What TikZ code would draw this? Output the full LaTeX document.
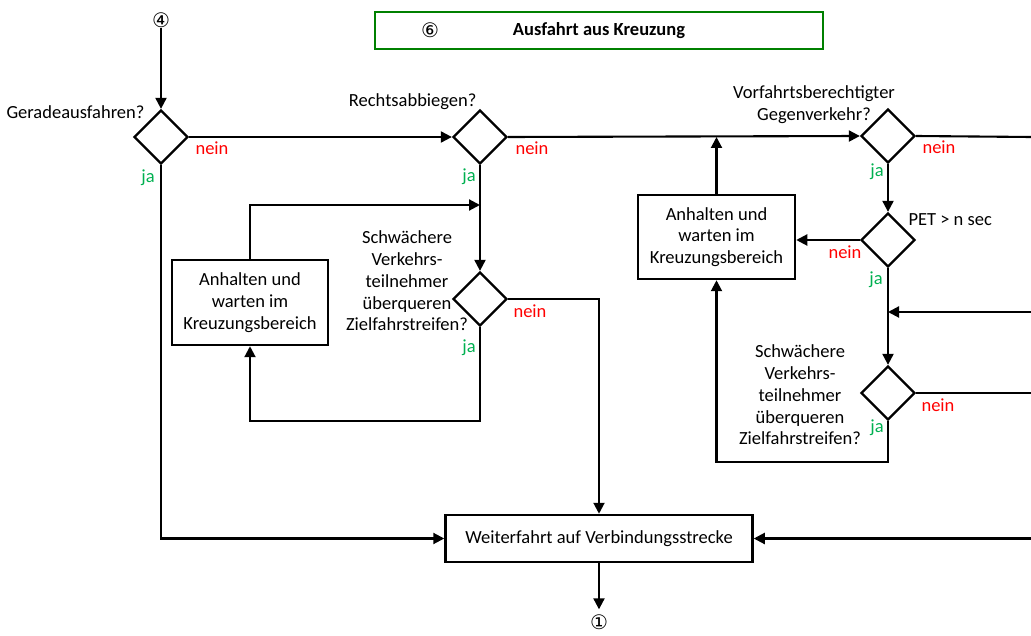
\documentclass[tikz,border=0pt]{standalone}
\usepackage{fontspec}
\setmainfont{Carlito}
\newfontfamily\circfont{DejaVu Sans}
\usetikzlibrary{arrows.meta,shapes.geometric}

\definecolor{jagreen}{RGB}{0,176,80}
\definecolor{framegreen}{RGB}{0,128,0}

\begin{document}
\begin{tikzpicture}[x=1pt, y=-1pt,
		every node/.style={font=\fontsize{18.5}{21.7}\selectfont},
		decision/.style={draw, diamond, aspect=1, line width=2.3pt, minimum width=54pt, minimum height=54pt, inner sep=0pt},
		action/.style={draw, rectangle, line width=2.5pt, align=center, inner sep=0pt},
		question/.style={align=center},
		nein/.style={text=red},
		ja/.style={text=jagreen},
		connector/.style={font=\circfont\fontsize{20}{20}\selectfont, inner sep=0pt},
		flow/.style={line width=2.1pt, -{Triangle[length=11pt, width=11pt]}},
		link/.style={line width=2.1pt}]
	\useasboundingbox (0, 0) rectangle (1031, 636);

	\draw (599, 30.5) 	node[draw=framegreen, line width=1.8pt, minimum width=448pt, minimum height=37pt, font=\bfseries\fontsize{18.5}{18.5}\selectfont] 	(title) 	{Ausfahrt aus Kreuzung};
	\draw (430, 30) 	node[connector] 	(six) 		{⑥};

	\draw (161, 20) 	node[connector] 	(start) 	{④};
	\draw (161, 137) 	node[decision] 		(gerade) 	{};
	\draw (480, 137) 	node[decision] 		(rechts) 	{};
	\draw (888, 136) 	node[decision] 		(vorfahrt) 	{};
	\draw (888, 240) 	node[decision] 		(pet) 		{};
	\draw (888, 393) 	node[decision] 		(schwR) 	{};
	\draw (480, 299) 	node[decision] 		(schwL) 	{};
	\draw (250, 302.5) 	node[action, minimum width=156pt, minimum height=85pt] 	(haltL) 	{Anhalten und\\warten im\\Kreuzungsbereich};
	\draw (716.5, 237) 	node[action, minimum width=157pt, minimum height=84pt] 	(haltR) 	{Anhalten und\\warten im\\Kreuzungsbereich};
	\draw (599, 538.5) 	node[action, minimum width=307pt, minimum height=47pt] 	(weiter) 	{Weiterfahrt auf Verbindungsstrecke};
	\draw (599, 622) 	node[connector] 	(ende) 		{①};

	\draw (148, 112) 	node[anchor=east] 	(qgerade) 	{Geradeausfahren?};
	\draw (480, 102) 	node[anchor=east] 	(qrechts) 	{Rechtsabbiegen?};
	\draw (814, 105) 	node[question] 		(qvorfahrt) 	{Vorfahrtsberechtigter\\Gegenverkehr?};
	\draw (905, 220) 	node[anchor=west] 	(qpet) 		{PET > n sec};
	\draw (407, 281) 	node[question] 		(qschwL) 	{Schwächere\\Verkehrs-\\teilnehmer\\überqueren\\Zielfahrstreifen?};
	\draw (800, 395) 	node[question] 		(qschwR) 	{Schwächere\\Verkehrs-\\teilnehmer\\überqueren\\Zielfahrstreifen?};

	\draw (212, 148) 	node[nein] 	(n1) 	{nein};
	\draw (532, 148) 	node[nein] 	(n2) 	{nein};
	\draw (939, 147) 	node[nein] 	(n3) 	{nein};
	\draw (845, 252) 	node[nein] 	(n4) 	{nein};
	\draw (530, 311) 	node[nein] 	(n5) 	{nein};
	\draw (938, 405) 	node[nein] 	(n6) 	{nein};
	\draw (148, 178) 	node[ja] 	(j1) 	{ja};
	\draw (469, 177) 	node[ja] 	(j2) 	{ja};
	\draw (877, 172) 	node[ja] 	(j3) 	{ja};
	\draw (876, 280) 	node[ja] 	(j4) 	{ja};
	\draw (469, 348) 	node[ja] 	(j5) 	{ja};
	\draw (877, 428) 	node[ja] 	(j6) 	{ja};

	\coordinate (outA) at (1031, 137);
	\coordinate (inB) at (1031, 312);
	\coordinate (outC) at (1031, 393);
	\coordinate (inD) at (1031, 538.5);
	\coordinate (joinL) at (480, 205);

	\draw[flow] (start) -- (gerade.north);
	\draw[flow] (gerade.east) -- (rechts.west);
	\draw[flow] (rechts.east) -- (vorfahrt.west);
	\draw[link] (vorfahrt.east) -- (outA);
	\draw[flow] (haltR.north) -- (haltR.north |- rechts.east);
	\draw[flow] (vorfahrt.south) -- (pet.north);
	\draw[flow] (pet.west) -- (pet.west -| haltR.east);
	\draw[flow] (pet.south) -- (schwR.north);
	\draw[flow] (inB) -- (inB -| pet.south);
	\draw[link] (schwR.east) -- (outC);
	\draw[flow] (schwR.south) -- ++(0, 41) -| (haltR.south);
	\draw[flow] (inD) -- (weiter.east);
	\draw[flow] (gerade.south) |- (weiter.west);
	\draw[flow] (rechts.south) -- (schwL.north);
	\draw[flow] (haltL.north) |- (joinL);
	\draw[flow] (schwL.south) -- ++(0, 94) -| (haltL.south);
	\draw[flow] (schwL.east) -| (weiter.north);
	\draw[flow] (weiter.south) -- ([yshift=5pt]ende.north);
\end{tikzpicture}
\end{document}
